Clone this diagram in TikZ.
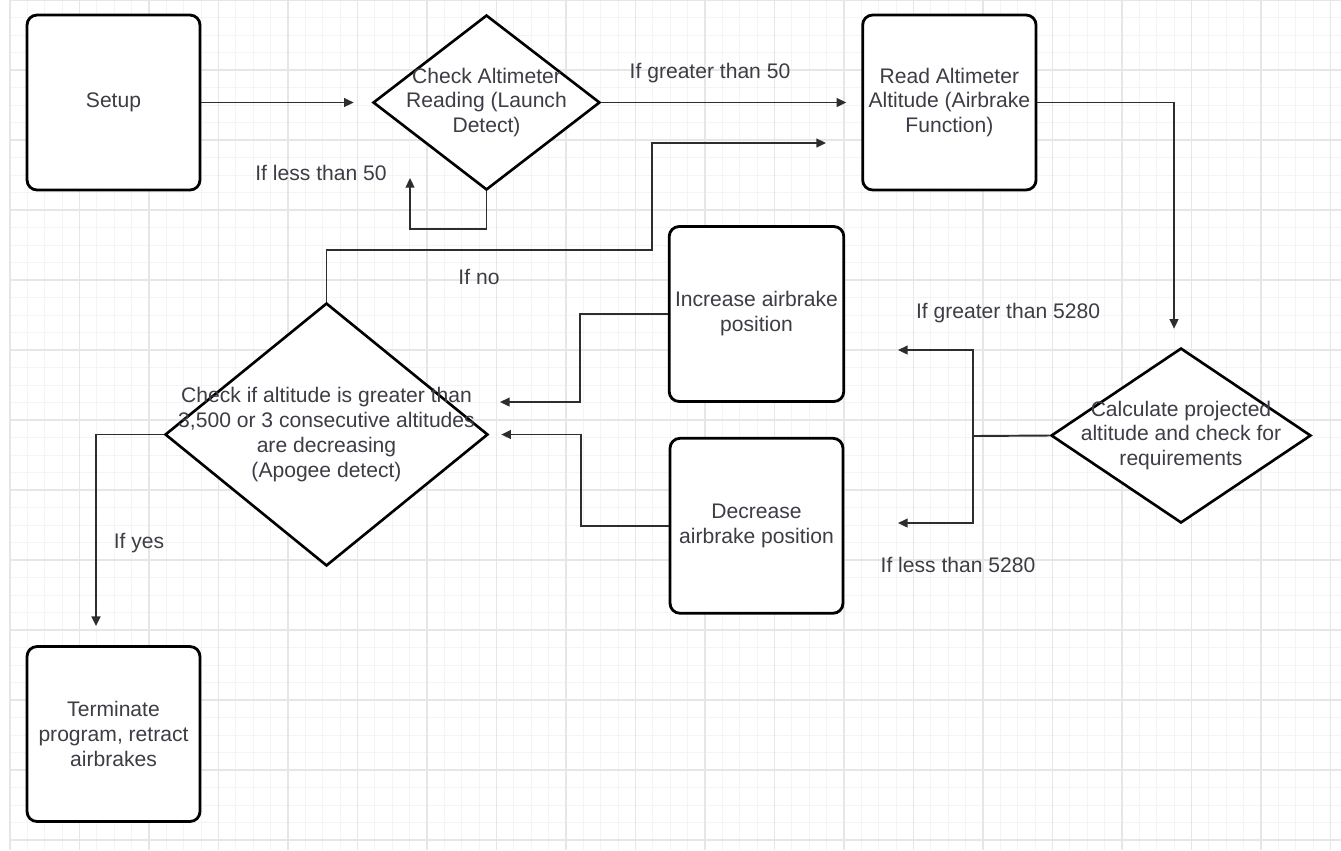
\documentclass[tikz,border=0pt]{standalone}
\usepackage{fontspec}
\setmainfont{Liberation Sans}
\usetikzlibrary{arrows.meta,calc,positioning,shapes.geometric}
\definecolor{FlowLine}{RGB}{45,45,45}
\definecolor{FlowText}{RGB}{62,60,68}
\definecolor{GridMajor}{RGB}{230,230,230}
\definecolor{GridMinor}{RGB}{244,244,244}

\begin{document}
\begin{tikzpicture}[x=0.02cm,y=-0.02cm,>={Triangle[length=5.5pt,width=5pt]}]
    \tikzset{box/.style={draw=black,line width=1.6pt,rounded corners=2mm,fill=white,minimum width=3.46cm,minimum height=3.5cm,align=center,text=FlowText,font=\fontsize{12}{14.2}\selectfont},
      decision/.style={diamond,draw=black,line width=1.5pt,fill=white,inner sep=0pt},
      dtext/.style={align=center,text=FlowText,font=\fontsize{12}{14.2}\selectfont},
      cond/.style={text=FlowText,font=\fontsize{12}{14.2}\selectfont},
      flow/.style={->,FlowLine,line width=1.1pt}}
    \useasboundingbox[fill=white] (0,0) rectangle (1341,850);
    % grid paper
    \foreach \i in {0,...,76} \draw[GridMinor,line width=0.5pt] ({10+17.375*\i},0) -- ({10+17.375*\i},850);
    \foreach \j in {0,...,48} \draw[GridMinor,line width=0.5pt] (10,{17.5*\j}) -- (1341,{17.5*\j});
    \foreach \i in {0,...,19} \draw[GridMajor,line width=0.9pt] ({10+69.5*\i},0) -- ({10+69.5*\i},850);
    \foreach \j in {0,...,12} \draw[GridMajor,line width=0.9pt] (10,{70*\j}) -- (1341,{70*\j});
    % steps
    \node[box] (setup) at (113.5,102.5) {Setup};
    \node[decision,minimum width=4.54cm,minimum height=3.5cm,label={[dtext]center:{Check Altimeter\\Reading (Launch\\Detect)}}] (check) at (486.5,102.5) {};
    \node[box,right=5.2cm of check] (read) {Read Altimeter\\Altitude (Airbrake\\Function)};
    \node[decision,minimum width=5.2cm,minimum height=3.5cm,label={[dtext]center:{Calculate projected\\altitude and check for\\requirements}}] (calc) at (1181,435.5) {};
    \node[box] (inc) at (756.5,314) {Increase airbrake\\position};
    \node[box,below=0.68cm of inc] (dec) {Decrease\\airbrake position};
    \node[decision,minimum width=6.46cm,minimum height=5.26cm,label={[dtext]center:{Check if altitude is greater than\\3,500 or 3 consecutive altitudes\\are decreasing\\(Apogee detect)}}] (apogee) at (326.5,434.5) {};
    \node[box] (term) at (113.5,734) {Terminate\\program, retract\\airbrakes};
    % loose ends
    \coordinate (lessend) at (410,178);
    \coordinate (nobend) at (652,250);
    \coordinate (noend) at (826,143);
    \coordinate (split) at (973,436);
    \coordinate (gtend) at (898,350);
    \coordinate (ltend) at (898,523);
    \coordinate (incend) at (500,402);
    % connectors
    \draw[flow,shorten >=0.36cm] (setup) -- (check);
    \draw[flow,shorten >=0.3cm] (check) -- (read);
    \draw[flow] (check.south) -- ++(0,38) -| (lessend);
    \draw[flow] (apogee.north) |- (nobend) |- (noend);
    \draw[flow,shorten >=0.36cm] (read.east) -| ([xshift=-0.14cm]calc.north);
    \draw[FlowLine,line width=1.1pt] (calc.west) -- (split);
    \draw[flow] (split) |- (gtend);
    \draw[flow] (split) |- (ltend);
    \draw[flow] (inc.west) -- ++(-88,0) |- (incend);
    \draw[flow,shorten >=0.24cm] (dec.west) -- ++(-88,0) |- (apogee.east);
    \draw[flow,shorten >=0.38cm] (apogee.west) -| ([xshift=-0.35cm]term.north);
    % conditions
    \node[cond] (gt50) at (710,73) {If greater than 50};
    \node[cond] (lt50) at (321,173) {If less than 50};
    \node[cond] (ifno) at (479,277) {If no};
    \node[cond] (gt5280) at (1008,313) {If greater than 5280};
    \node[cond] (lt5280) at (958,565) {If less than 5280};
    \node[cond] (ifyes) at (139,543) {If yes};
  \end{tikzpicture}
\end{document}
